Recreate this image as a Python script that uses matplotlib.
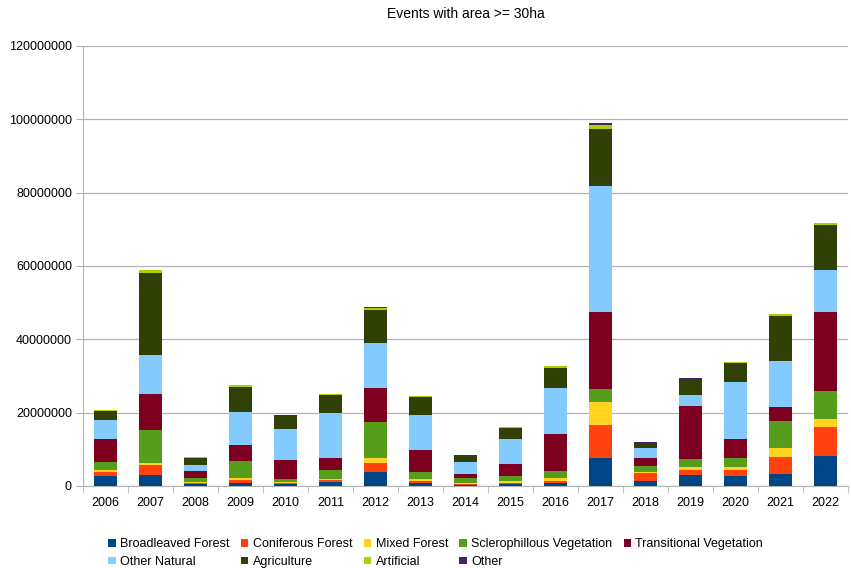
import matplotlib
matplotlib.use("Agg")
import matplotlib.pyplot as plt
import numpy as np
from matplotlib.patches import Patch

years = [str(y) for y in range(2006, 2023)]

broadleaved = [2.68, 3.05, 0.41, 0.86, 0.41, 1.14, 3.86, 0.70, 0.40, 0.60, 0.86, 7.60, 1.23, 2.95, 2.80, 3.30, 8.20]
coniferous  = [1.18, 2.55, 0.36, 0.90, 0.30, 0.55, 2.45, 0.55, 0.20, 0.27, 0.64, 9.00, 2.30, 1.55, 1.70, 4.50, 8.00]
mixed       = [0.64, 0.80, 0.30, 0.45, 0.30, 0.35, 1.36, 0.70, 0.20, 0.36, 0.70, 6.40, 0.27, 0.55, 0.55, 2.50, 2.20]
sclero      = [2.00, 9.00, 1.20, 4.50, 1.00, 2.20, 9.80, 1.80, 1.45, 1.60, 1.90, 3.45, 1.65, 2.20, 2.50, 7.50, 7.55]
transit     = [6.45, 9.80, 1.80, 4.50, 5.20, 3.40, 9.30, 6.20, 1.00, 3.30, 10.10, 21.00, 2.10, 14.50, 5.20, 3.80, 21.55]
other_nat   = [5.00, 10.60, 1.60, 8.90, 8.40, 12.40, 12.30, 9.30, 3.30, 6.80, 12.50, 34.50, 2.80, 3.10, 15.50, 12.50, 11.40]
agriculture = [2.60, 22.30, 2.10, 6.90, 3.70, 4.90, 9.00, 5.10, 1.90, 3.00, 5.50, 15.50, 1.30, 4.30, 5.40, 12.40, 12.40]
artificial  = [0.20, 0.70, 0.10, 0.45, 0.10, 0.20, 0.55, 0.10, 0.10, 0.20, 0.45, 0.90, 0.20, 0.15, 0.20, 0.35, 0.35]
other       = [0.05, 0.10, 0.03, 0.05, 0.03, 0.05, 0.10, 0.15, 0.03, 0.05, 0.10, 0.55, 0.03, 0.10, 0.05, 0.10, 0.10]

series_names = ["Broadleaved Forest", "Coniferous Forest", "Mixed Forest",
                "Sclerophillous Vegetation", "Transitional Vegetation",
                "Other Natural", "Agriculture", "Artificial", "Other"]
series_vals = [broadleaved, coniferous, mixed, sclero, transit,
               other_nat, agriculture, artificial, other]
colors = ["#004586", "#ff420e", "#ffd320", "#579d1c", "#7e0021",
          "#83caff", "#314004", "#aecf00", "#4b1f6f"]

plt.rcParams['font.family'] = ['Liberation Sans', 'DejaVu Sans']

fig = plt.figure(figsize=(8.51, 5.68), dpi=100)
ax = fig.add_axes([83/851, 1-486/568, 765/851, 440/568])

x = np.arange(len(years))
bottom = np.zeros(len(years))
for name, vals, c in zip(series_names, series_vals, colors):
    v = np.array(vals) * 1e6
    ax.bar(x, v, width=0.5, bottom=bottom, color=c, label=name, zorder=3)
    bottom += v

ax.set_xlim(-0.5, len(years) - 0.5)
ax.set_ylim(0, 120000000)
ax.set_yticks(np.arange(0, 120000001, 20000000))
ax.set_yticklabels([str(int(t)) for t in np.arange(0, 120000001, 20000000)])
ax.set_xticks(x)
ax.set_xticklabels(years)
ax.set_xticks(np.arange(-0.5, len(years), 1), minor=True)
ax.tick_params(axis='x', which='major', length=0, labelsize=9, pad=8, colors='#000000')
ax.tick_params(axis='x', which='minor', length=5, color='#b3b3b3')
ax.tick_params(axis='y', which='major', length=5, color='#b3b3b3', labelsize=9, pad=3)

ax.grid(axis='y', color='#b3b3b3', linewidth=0.9, zorder=0)
for s in ['top', 'right']:
    ax.spines[s].set_visible(False)
ax.spines['left'].set_color('#b3b3b3')
ax.spines['bottom'].set_color('#b3b3b3')

ax.set_title("Events with area >= 30ha", fontsize=10, pad=20)

# legend filled column-wise by matplotlib; reorder so it reads row-wise
order = [0, 5, 1, 6, 2, 7, 3, 8, 4]
handles = [Patch(facecolor=colors[i], label=series_names[i]) for i in order]
fig.legend(handles=handles, loc='upper left', bbox_to_anchor=(102/851, 1-532/568),
           ncol=5, frameon=False, fontsize=9, handlelength=0.6, handleheight=0.6,
           handletextpad=0.35, columnspacing=0.9, labelspacing=0.45, borderpad=0)

fig.savefig("out.png", dpi=100)
